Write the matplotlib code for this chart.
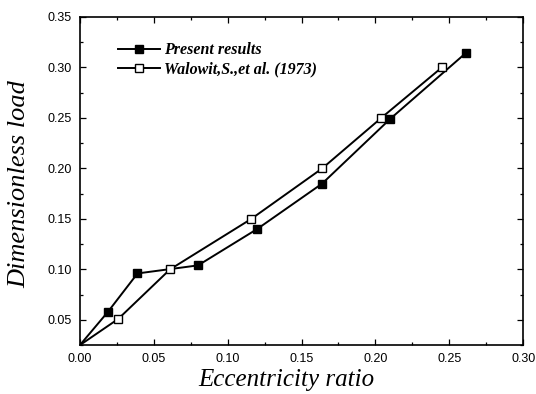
import matplotlib
matplotlib.use("Agg")
import matplotlib.pyplot as plt
from matplotlib.ticker import MultipleLocator, FormatStrFormatter

present_x = [0.0, 0.019, 0.039, 0.080, 0.120, 0.164, 0.210, 0.261]
present_y = [0.025, 0.058, 0.096, 0.104, 0.140, 0.185, 0.249, 0.314]
walowit_x = [0.0, 0.026, 0.061, 0.116, 0.164, 0.204, 0.245]
walowit_y = [0.025, 0.051, 0.100, 0.150, 0.200, 0.250, 0.300]

fig = plt.figure(figsize=(5.36, 3.94), dpi=100)
ax = fig.add_axes([0.149, 0.124, 0.827, 0.833])

ax.plot(present_x, present_y, color="black", lw=1.4, marker="s", ms=5.5,
        mfc="black", mec="black", markevery=list(range(1, len(present_x))),
        label="Present results")
ax.plot(walowit_x, walowit_y, color="black", lw=1.4, marker="s", ms=5.5,
        mfc="white", mec="black", markevery=list(range(1, len(walowit_x))),
        label="Walowit,S.,et al. (1973)")

ax.set_xlim(0.0, 0.30)
ax.set_ylim(0.025, 0.35)
ax.xaxis.set_major_locator(MultipleLocator(0.05))
ax.xaxis.set_minor_locator(MultipleLocator(0.025))
ax.yaxis.set_major_locator(MultipleLocator(0.05))
ax.yaxis.set_minor_locator(MultipleLocator(0.025))
ax.xaxis.set_major_formatter(FormatStrFormatter("%.2f"))
ax.yaxis.set_major_formatter(FormatStrFormatter("%.2f"))
ax.set_yticks([0.05, 0.10, 0.15, 0.20, 0.25, 0.30, 0.35])

ax.tick_params(which="both", direction="in", top=True, right=True,
               labelsize=9, width=0.9)
ax.tick_params(which="major", length=4)
ax.tick_params(which="minor", length=2)
for lab in ax.get_xticklabels() + ax.get_yticklabels():
    lab.set_fontfamily("Liberation Sans")
ax.tick_params(axis="x", pad=6)
ax.tick_params(axis="y", pad=6)

for s in ax.spines.values():
    s.set_linewidth(1.2)

ax.set_xlabel("Eccentricity ratio", fontfamily="Liberation Serif",
              fontstyle="italic", fontsize=18)
ax.xaxis.set_label_coords(0.466, -0.073)
ax.set_ylabel("Dimensionless load", fontfamily="Liberation Serif",
              fontstyle="italic", fontsize=19)
ax.yaxis.set_label_coords(-0.112, 0.49)

leg = ax.legend(loc="upper left", bbox_to_anchor=(0.086, 0.923), frameon=False,
                borderpad=0, borderaxespad=0,
                handlelength=2.6, handletextpad=0.3, labelspacing=0.2,
                prop={"family": "Liberation Serif", "style": "italic",
                      "weight": "bold", "size": 11.5})

fig.savefig("out.png", dpi=100)
